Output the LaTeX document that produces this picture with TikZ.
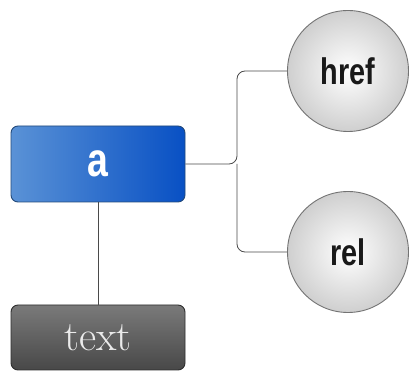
\documentclass[tikz,border=0pt]{standalone}
\usepackage{fontspec}
\newfontfamily\condfont[FakeStretch=0.78]{Liberation Sans}
\usetikzlibrary{shadings}
\definecolor{bluetl}{HTML}{5A92D6}
\definecolor{bluebr}{HTML}{0850C4}
\definecolor{blueedge}{HTML}{234A7A}
\definecolor{greytl}{HTML}{7A7A7A}
\definecolor{greybr}{HTML}{484848}
\definecolor{greyedge}{HTML}{2E2E2E}
\definecolor{linec}{HTML}{4A4A4A}
\definecolor{ballout}{HTML}{CFCFCF}
\tikzset{
  bluebox/.style={draw=blueedge, line width=0.9pt, rounded corners=7pt, minimum width=174pt, minimum height=76pt,
    left color=bluetl, right color=bluebr, text=white, font=\condfont\bfseries\fontsize{48}{48}\selectfont},
  greybox/.style={draw=greyedge, line width=0.9pt, rounded corners=7pt, minimum width=174pt, minimum height=65pt,
    top color=greytl, bottom color=greybr, text=white!92!black, font=\fontsize{42}{42}\selectfont},
  ball/.style={circle, draw=black!55, line width=0.9pt, minimum size=121pt, inner sep=0pt,
    inner color=white, outer color=ballout, text=black!90, font=\condfont\bfseries\fontsize{37}{37}\selectfont},
  conn/.style={draw=linec, line width=0.8pt, rounded corners=8pt}
}
\begin{document}
\begin{tikzpicture}[x=1pt,y=-1pt]
\useasboundingbox (0,0) rectangle (413,382);
\node[bluebox] (a) at (98,164) {a};
\node[greybox] (t) at (98,337.5) {text};
\node[ball] (h) at (348,71) {href};
\node[ball] (r) at (348,252) {rel};
\coordinate (j) at (237,164);
\draw[conn] (a.east) -- (j) |- (h.west);
\draw[conn] (j) |- (r.west);
\draw[draw=linec, line width=0.8pt] (a.south) -- (t.north);
\end{tikzpicture}
\end{document}
